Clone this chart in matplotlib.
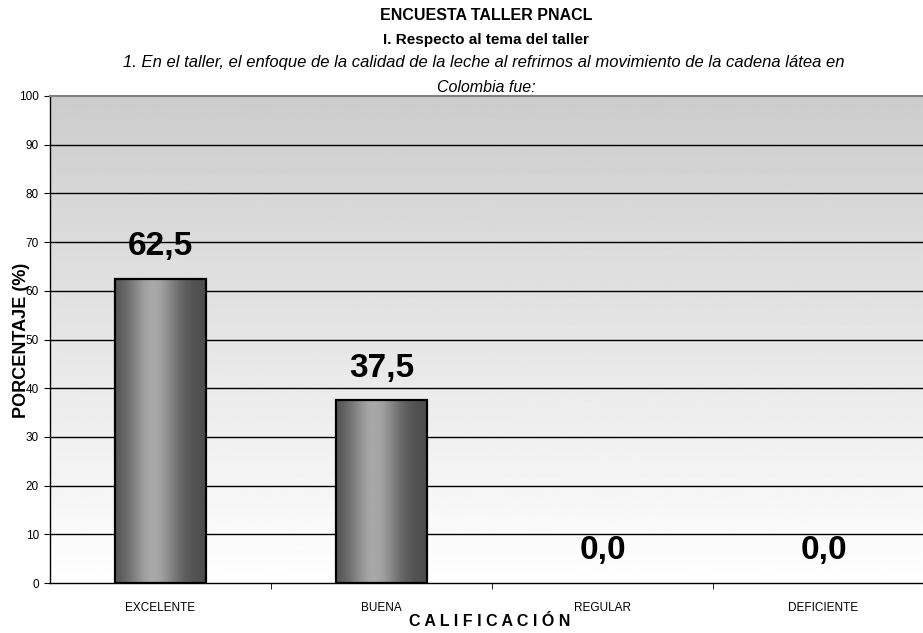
import matplotlib
matplotlib.use("Agg")
import matplotlib.pyplot as plt
import numpy as np

categories = ["EXCELENTE", "BUENA", "REGULAR", "DEFICIENTE"]
values = [62.5, 37.5, 0.0, 0.0]
value_labels = ["62,5", "37,5", "0,0", "0,0"]
yticks = [0, 10, 20, 30, 40, 50, 60, 70, 80, 90, 100]

plt.rcParams['font.family'] = ['Liberation Sans', 'DejaVu Sans']

fig = plt.figure(figsize=(9.23, 6.33), dpi=100)
ax = fig.add_axes([50/923, 1-583/633, 884/923, 487/633])
ax.set_xlim(-0.5, len(categories) - 0.5)
ax.set_ylim(0, 100)

# background gradient
bg = np.linspace(1.0, 0.80, 256).reshape(-1, 1)
ax.imshow(bg, cmap='gray', vmin=0, vmax=1, aspect='auto',
          extent=[-0.5, len(categories) - 0.5, 0, 100], origin='lower', zorder=0)

for yv in yticks[1:-1]:
    ax.axhline(yv, color='black', lw=1.0, zorder=1)

# bar gradient
t = np.linspace(0, 1, 200)
shade = 0.30 + 0.36 * np.exp(-((t - 0.42) / 0.28) ** 2)
shade = np.clip(shade, 0, 1).reshape(1, -1)
width = 0.41
bars = ax.bar(range(len(categories)), values, width=width, color='none',
              edgecolor='black', linewidth=1.6, zorder=3)
for b in bars:
    h = b.get_height()
    if h <= 0:
        b.set_linewidth(0)
        continue
    x0 = b.get_x()
    im = ax.imshow(shade, cmap='gray', vmin=0, vmax=1, aspect='auto',
                   extent=[x0, x0 + b.get_width(), 0, h], zorder=2)
    im.set_clip_path(b)

ax.set_xlim(-0.5, len(categories) - 0.5)
ax.set_ylim(0, 100)

for i, (v, lab) in enumerate(zip(values, value_labels)):
    ax.annotate(lab, (i, v), xytext=(0, 17), textcoords='offset points',
                ha='center', va='baseline', fontsize=24, fontweight='bold')

ax.set_yticks(yticks)
ax.set_yticklabels([str(y) for y in yticks], fontsize=8.5)
ax.set_xticks(range(len(categories)))
ax.set_xticklabels(categories, fontsize=8.5)
ax.tick_params(axis='x', length=0, pad=14)
ax.set_xticks(np.arange(0.5, len(categories) - 0.5, 1), minor=True)
ax.tick_params(axis='x', which='minor', length=4, direction='out', color='black')
ax.tick_params(axis='y', length=4, direction='out', pad=4)

ax.spines['right'].set_visible(False)
ax.spines['top'].set_color('#808080')
ax.spines['top'].set_linewidth(1.5)
ax.spines['left'].set_linewidth(1.0)
ax.spines['bottom'].set_linewidth(1.0)

fig.text(490/923, 1-622/633, "C A L I F I C A C I Ó N",
         ha='center', va='center', fontsize=11.5, fontweight='bold')
fig.text(22/923, 1-340/633, "PORCENTAJE (%)", rotation=90, ha='center', va='center',
         fontsize=13, fontweight='bold')

fig.text(486/923, 1-16/633, "ENCUESTA TALLER PNACL", ha='center', va='center',
         fontsize=11.5, fontweight='bold')
fig.text(486/923, 1-40/633, "I. Respecto al tema del taller", ha='center', va='center',
         fontsize=11, fontweight='bold')
fig.text(484/923, 1-63/633,
         "1. En el taller, el enfoque de la calidad de la leche al refrirnos al movimiento de la cadena látea en",
         ha='center', va='center', fontsize=12, style='italic')
fig.text(486/923, 1-87/633, "Colombia fue:", ha='center', va='center',
         fontsize=11.5, style='italic')

fig.savefig("out.png", dpi=100)
